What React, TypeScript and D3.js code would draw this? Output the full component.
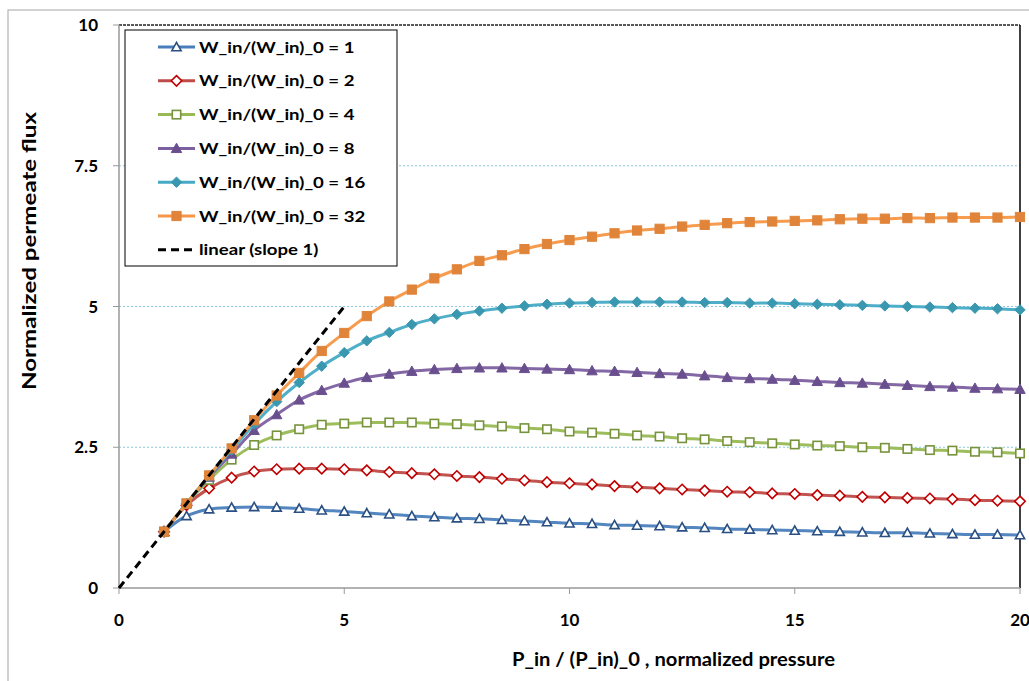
import React from "react";
import * as d3 from "d3";

const xValues = d3.range(1, 20.001, 0.5);
const xTicks = [0, 5, 10, 15, 20];
const yTicks = [0, 2.5, 5, 7.5, 10];
const yTickLabels = ["0", "2.5", "5", "7.5", "10"];
const gridValues = [2.5, 5, 7.5];

const w1 = [1.00,1.28,1.40,1.43,1.44,1.43,1.41,1.38,1.36,1.33,1.31,1.28,1.26,1.24,1.23,1.21,1.19,1.17,1.15,1.14,1.12,1.11,1.10,1.08,1.07,1.05,1.04,1.03,1.02,1.01,1.00,0.99,0.98,0.98,0.97,0.96,0.95,0.95,0.94];
const w2 = [1.00,1.47,1.77,1.96,2.07,2.11,2.12,2.12,2.11,2.09,2.06,2.04,2.02,1.99,1.97,1.94,1.91,1.88,1.86,1.84,1.81,1.79,1.77,1.75,1.73,1.71,1.70,1.68,1.67,1.65,1.64,1.62,1.61,1.60,1.59,1.58,1.56,1.55,1.54];
const w4 = [1.00,1.50,1.92,2.28,2.54,2.71,2.82,2.90,2.92,2.94,2.94,2.94,2.92,2.91,2.89,2.87,2.84,2.82,2.78,2.76,2.74,2.71,2.69,2.66,2.64,2.61,2.59,2.57,2.55,2.53,2.52,2.50,2.49,2.47,2.45,2.44,2.42,2.41,2.39];
const w8 = [1.00,1.50,1.97,2.38,2.80,3.08,3.34,3.51,3.64,3.74,3.80,3.85,3.88,3.90,3.91,3.91,3.90,3.89,3.88,3.86,3.85,3.83,3.81,3.80,3.77,3.74,3.72,3.71,3.69,3.67,3.65,3.64,3.62,3.60,3.58,3.57,3.55,3.54,3.53];
const w16 = [1.00,1.50,1.99,2.45,2.91,3.31,3.65,3.94,4.18,4.39,4.54,4.68,4.78,4.86,4.92,4.97,5.01,5.04,5.06,5.07,5.08,5.08,5.08,5.08,5.07,5.07,5.06,5.06,5.05,5.04,5.03,5.02,5.01,5.00,4.99,4.98,4.97,4.96,4.94];
const w32 = [1.00,1.50,2.00,2.48,2.98,3.42,3.82,4.21,4.53,4.83,5.09,5.30,5.50,5.66,5.81,5.91,6.02,6.11,6.18,6.24,6.30,6.35,6.38,6.42,6.45,6.48,6.50,6.51,6.52,6.53,6.55,6.56,6.56,6.57,6.57,6.58,6.58,6.58,6.59];
const linearX = [0, 5];
const linearY = [0, 5];

type Marker = "triOpen" | "diaOpen" | "sqOpen" | "triFill" | "diaFill" | "sqFill";
const series: { name: string; values: number[]; line: string; mark: string; marker: Marker }[] = [
  { name: "W_in/(W_in)_0 = 1", values: w1, line: "#4a7ebb", mark: "#2a4f82", marker: "triOpen" },
  { name: "W_in/(W_in)_0 = 2", values: w2, line: "#be4b48", mark: "#c00000", marker: "diaOpen" },
  { name: "W_in/(W_in)_0 = 4", values: w4, line: "#98b954", mark: "#77933c", marker: "sqOpen" },
  { name: "W_in/(W_in)_0 = 8", values: w8, line: "#7d60a0", mark: "#6a4f8e", marker: "triFill" },
  { name: "W_in/(W_in)_0 = 16", values: w16, line: "#46aac5", mark: "#3a97b0", marker: "diaFill" },
  { name: "W_in/(W_in)_0 = 32", values: w32, line: "#f79646", mark: "#e0843a", marker: "sqFill" },
];

const FONT = "Lato, 'Open Sans', sans-serif";

function MarkerShape({ type, x, y, color }: { type: Marker; x: number; y: number; color: string }) {
  const open = type.endsWith("Open");
  const fill = open ? "#ffffff" : color;
  const sw = open ? 1.6 : 1;
  if (type.startsWith("tri")) {
    const s = open ? 4.6 : 5.2;
    const p = `${x},${y - s} ${x + s},${y + s * 0.8} ${x - s},${y + s * 0.8}`;
    return <polygon points={p} fill={fill} stroke={color} strokeWidth={sw} />;
  }
  if (type.startsWith("dia")) {
    const s = 5.2;
    const p = `${x},${y - s} ${x + s},${y} ${x},${y + s} ${x - s},${y}`;
    return <polygon points={p} fill={fill} stroke={color} strokeWidth={sw} />;
  }
  const s = open ? 4.2 : 4.6;
  return <rect x={x - s} y={y - s} width={2 * s} height={2 * s} fill={fill} stroke={color} strokeWidth={sw} />;
}

export default function App() {
  const W = 1029, H = 681;
  const x = d3.scaleLinear().domain([0, 20]).range([119, 1020]);
  const y = d3.scaleLinear().domain([0, 10]).range([588, 25]);
  const line = d3
    .line<number>()
    .x((_, i) => x(xValues[i]))
    .y((d) => y(d))
    .curve(d3.curveCatmullRom.alpha(0.5));

  const legendX = 125, legendY = 30, legendW = 272, legendH = 236;
  const rowY = (i: number) => 47 + i * 33.8;

  return (
    <svg width={W} height={H} style={{ position: "absolute", left: 0, top: 0 }} fontFamily={FONT}>
      <rect x={0} y={0} width={W} height={H} fill="#fff" />
      <rect x={8} y={10} width={W + 20} height={H + 20} fill="none" stroke="#a6a6a6" strokeWidth={1} />

      {/* gridlines */}
      {gridValues.map((g) => (
        <line key={g} x1={x(0)} x2={x(20)} y1={y(g)} y2={y(g)} stroke="#8ccbdd" strokeWidth={1} strokeDasharray="2,2" />
      ))}
      {/* plot top / right border */}
      <line x1={x(0)} x2={x(20)} y1={y(10)} y2={y(10)} stroke="#595959" strokeWidth={2} strokeDasharray="3,1" />
      <line x1={x(20)} x2={x(20)} y1={y(10)} y2={y(0)} stroke="#000" strokeWidth={1.5} />

      {/* axes */}
      <line x1={x(0)} x2={x(0)} y1={y(10)} y2={y(0)} stroke="#999" strokeWidth={1.5} />
      <line x1={x(0)} x2={x(20)} y1={y(0)} y2={y(0)} stroke="#999" strokeWidth={1.5} />
      {yTicks.map((t, i) => (
        <g key={t}>
          <line x1={x(0) - 6} x2={x(0)} y1={y(t)} y2={y(t)} stroke="#999" strokeWidth={1} />
          <text x={98} y={y(t)} dy="0.36em" textAnchor="end" fontSize={17} fontWeight={700}>
            {yTickLabels[i]}
          </text>
        </g>
      ))}
      {xTicks.map((t) => (
        <g key={t}>
          <line x1={x(t)} x2={x(t)} y1={y(0)} y2={y(0) + 6} stroke="#999" strokeWidth={1} />
          <text x={x(t)} y={626} textAnchor="middle" fontSize={17} fontWeight={700}>
            {t}
          </text>
        </g>
      ))}

      {/* series */}
      {series.map((s) => (
        <g key={s.name}>
          <path d={line(s.values) || ""} fill="none" stroke={s.line} strokeWidth={3} strokeOpacity={0.95} />
          {s.values.map((v, i) => (
            <MarkerShape key={i} type={s.marker} x={x(xValues[i])} y={y(v)} color={s.mark} />
          ))}
        </g>
      ))}

      {/* linear slope line */}
      <line
        x1={x(linearX[0])}
        y1={y(linearY[0])}
        x2={x(linearX[1])}
        y2={y(linearY[1])}
        stroke="#000"
        strokeWidth={3}
        strokeDasharray="8,5"
      />

      {/* axis titles */}
      <text x={512} y={666} fontSize={18} fontWeight={700} textLength={323} lengthAdjust="spacingAndGlyphs">
        P_in / (P_in)_0 , normalized pressure
      </text>
      <text
        transform="translate(36,390) rotate(-90)"
        fontSize={19}
        fontWeight={700}
        textLength={278}
        lengthAdjust="spacingAndGlyphs"
      >
        Normalized permeate flux
      </text>

      {/* legend */}
      <rect x={legendX} y={legendY} width={legendW} height={legendH} fill="#fff" stroke="#000" strokeWidth={1} />
      {series.map((s, i) => (
        <g key={s.name}>
          <line x1={158} x2={195} y1={rowY(i)} y2={rowY(i)} stroke={s.line} strokeWidth={3} />
          <MarkerShape type={s.marker} x={176.5} y={rowY(i)} color={s.mark} />
          <g transform={`translate(199,${rowY(i)}) scale(1.2,1)`}>
            <text x={0} y={0} dy="0.36em" fontSize={15.5} fontWeight={700}>
              {s.name}
            </text>
          </g>
        </g>
      ))}
      <line x1={158} x2={195} y1={rowY(6)} y2={rowY(6)} stroke="#000" strokeWidth={3} strokeDasharray="8,5" />
      <g transform={`translate(199,${rowY(6)}) scale(1.2,1)`}>
        <text x={0} y={0} dy="0.36em" fontSize={15.5} fontWeight={700}>
          linear (slope 1)
        </text>
      </g>
    </svg>
  );
}
